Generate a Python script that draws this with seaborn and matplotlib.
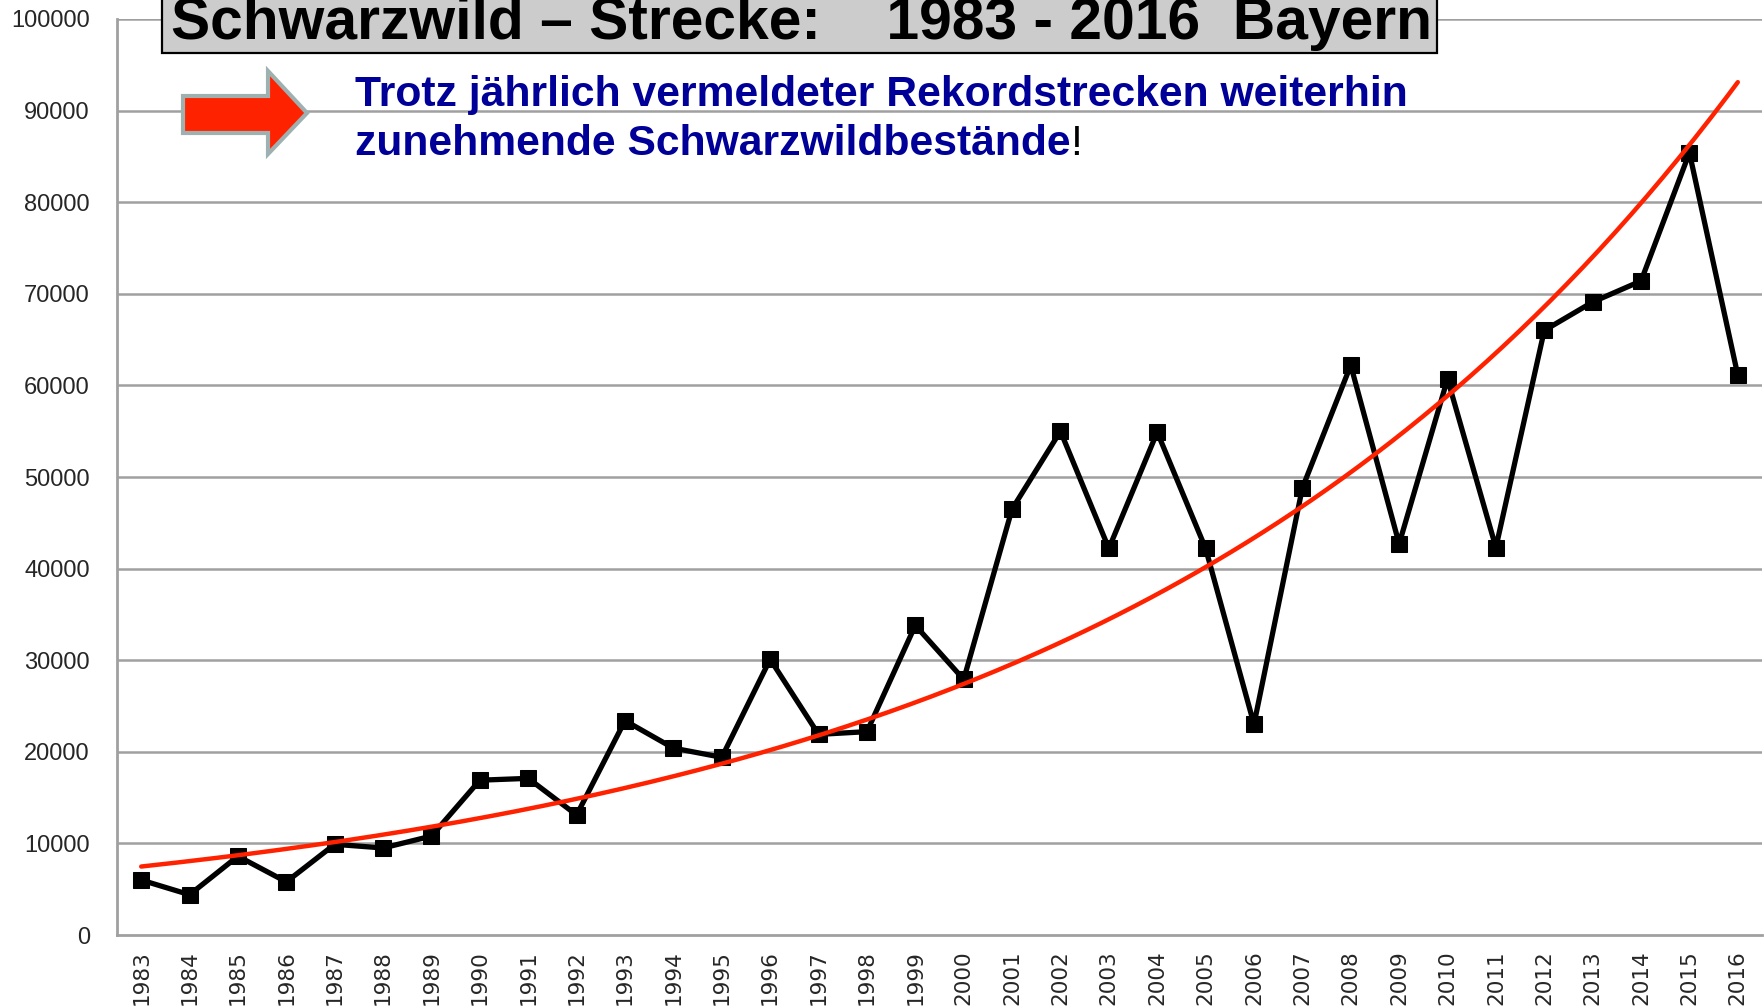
"""
Schwarzwild-Strecke Bayern 1983-2016 with exponential trend line.
"""

import numpy as np
import pandas as pd

import matplotlib
matplotlib.use("Agg")
import matplotlib.pyplot as plt
from matplotlib.patches import Rectangle, Polygon

import seaborn as sns

# ── Data ─────────────────────────────────────────────────────────────────────
years = list(range(1983, 2017))
strecke = [
    6000, 4400, 8600, 5800, 9900, 9500, 10800, 16900, 17100, 13100,
    23400, 20400, 19400, 30100, 21900, 22200, 33800, 27900, 46500, 55000,
    42200, 54900, 42200, 23000, 48800, 62200, 42700, 60700, 42300, 66000,
    69100, 71400, 85400, 61100,
]
year_labels = [str(y) for y in years]
y_ticks = list(range(0, 100001, 10000))

title = "Schwarzwild \u2013 Strecke:    1983 - 2016  Bayern"
line1 = "Trotz jährlich vermeldeter Rekordstrecken weiterhin"
line2 = "zunehmende Schwarzwildbestände"

df = pd.DataFrame({"Jahr": years, "Strecke": strecke})

# exponential trend (least squares on log values, like the spreadsheet trendline)
k, c = np.polyfit(df["Jahr"], np.log(df["Strecke"]), 1)
trend_x = np.linspace(years[0], years[-1], 300)
trend = pd.DataFrame({"Jahr": trend_x, "Trend": np.exp(c + k * trend_x)})

# ── Figure ───────────────────────────────────────────────────────────────────
W, H = 1764, 1006
sns.set_style("white")
plt.rcParams["font.family"] = ["Liberation Sans", "DejaVu Sans"]

fig = plt.figure(figsize=(W / 100, H / 100), dpi=100)


def fx(px):
    return px / W


def fy(py):
    return 1 - py / H


ax = fig.add_axes([fx(117), fy(935), fx(1762) - fx(117), fy(19) - fy(935)])

grid_col = "#a0a0a0"
for yv in y_ticks[1:]:
    ax.axhline(yv, color=grid_col, lw=1.8, zorder=0)

sns.lineplot(data=df, x="Jahr", y="Strecke", ax=ax, color="black", lw=3.8,
             marker="s", markersize=12, markeredgecolor="black", zorder=3)
sns.lineplot(data=trend, x="Jahr", y="Trend", ax=ax, color="#ff2200", lw=3.2,
             zorder=4)

ax.set_xlim(years[0] - 0.5, years[-1] + 0.5)
ax.set_ylim(0, 100000)
ax.set_xticks(years)
ax.set_xticklabels(year_labels, rotation=90, fontfamily="DejaVu Sans",
                   fontsize=15.5)
ax.set_yticks(y_ticks)
ax.set_yticklabels([str(v) for v in y_ticks], fontsize=17)
ax.tick_params(axis="both", length=0)
ax.tick_params(axis="x", pad=11)
ax.tick_params(axis="y", pad=19.5)
ax.set_xlabel("")
ax.set_ylabel("")

for side in ("top", "right"):
    ax.spines[side].set_visible(False)
for side in ("left", "bottom"):
    ax.spines[side].set_color(grid_col)
    ax.spines[side].set_linewidth(2)

# ── Title box ────────────────────────────────────────────────────────────────
fig.patches.append(Rectangle((fx(162), fy(53)), fx(1437) - fx(162), 0.08,
                             transform=fig.transFigure, facecolor="#cccccc",
                             edgecolor="black", lw=1.6, zorder=5))
fig.text(fx(171), fy(39), title, fontsize=42.3, fontweight="bold",
         va="baseline", ha="left", color="black", zorder=6)

# ── Arrow ────────────────────────────────────────────────────────────────────
arrow_pts = [(183, 96), (268, 96), (268, 71), (307, 113), (268, 154),
             (268, 133), (183, 133)]
fig.patches.append(Polygon([(fx(x), fy(y)) for x, y in arrow_pts],
                           closed=True, transform=fig.transFigure,
                           facecolor="#ff2200", edgecolor="#9fb0b0", lw=3,
                           zorder=5))

# ── Subtitle ─────────────────────────────────────────────────────────────────
sub_col = "#000099"
fig.text(fx(355), fy(106), line1, fontsize=30.7, fontweight="bold",
         color=sub_col, va="baseline", ha="left")
t2 = fig.text(fx(355), fy(155), line2, fontsize=30.7, fontweight="bold",
              color=sub_col, va="baseline", ha="left")
fig.canvas.draw()
bb = t2.get_window_extent()
fig.text(bb.x1 / W, fy(155), "!", fontsize=30.7, color="black",
         va="baseline", ha="left")

fig.savefig("out.png", dpi=100)
plt.close(fig)
